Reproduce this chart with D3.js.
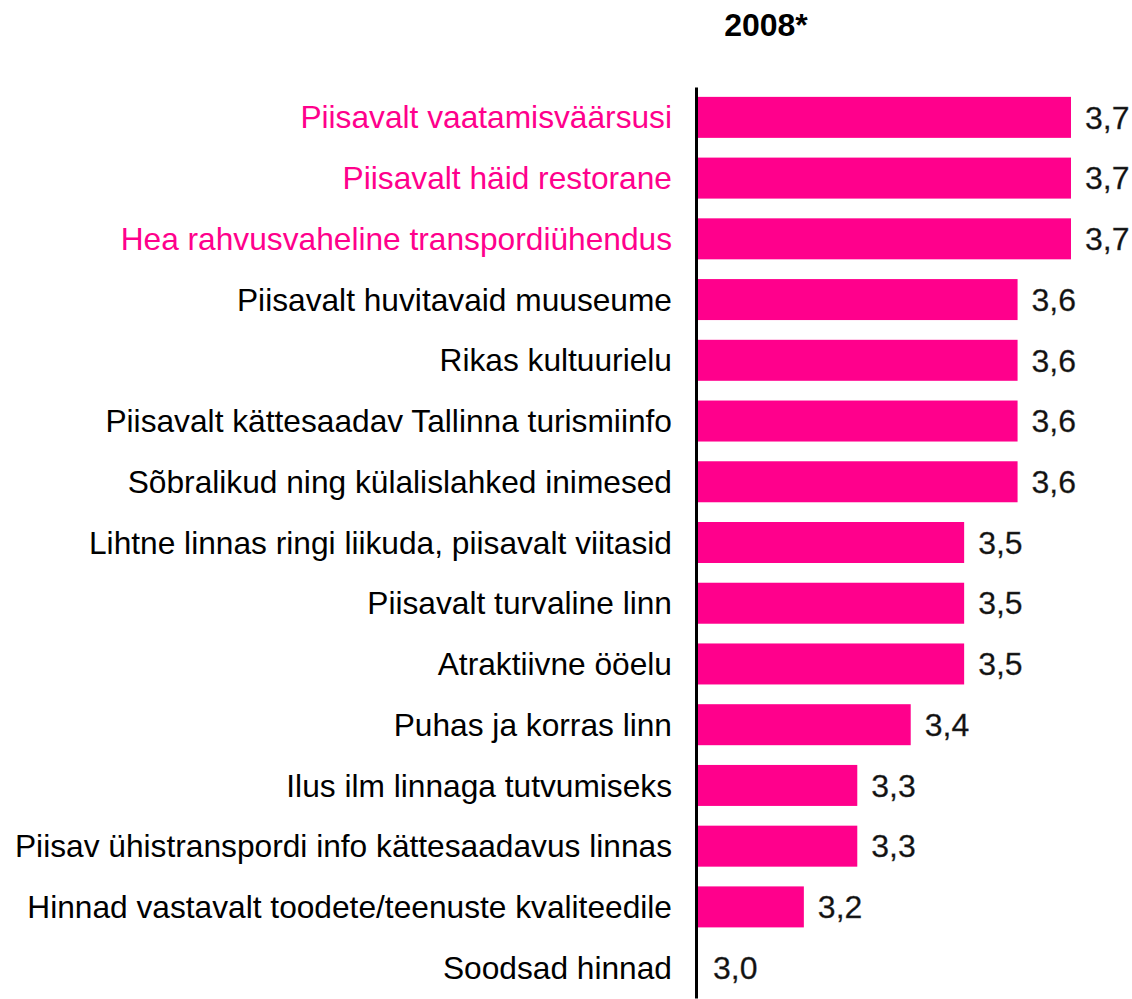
<!DOCTYPE html>
<html>
<head>
<meta charset="utf-8">
<script src="https://cdn.jsdelivr.net/npm/d3@7"></script>
<style>
  body { margin: 0; background: #fff; }
  text { font-family: Arial, "Liberation Sans", sans-serif; }
</style>
</head>
<body>
<div id="mainchart"></div>
<script>
var categories = [
  "Piisavalt vaatamisväärsusi",
  "Piisavalt häid restorane",
  "Hea rahvusvaheline transpordiühendus",
  "Piisavalt huvitavaid muuseume",
  "Rikas kultuurielu",
  "Piisavalt kättesaadav Tallinna turismiinfo",
  "Sõbralikud ning külalislahked inimesed",
  "Lihtne linnas ringi liikuda, piisavalt viitasid",
  "Piisavalt turvaline linn",
  "Atraktiivne ööelu",
  "Puhas ja korras linn",
  "Ilus ilm linnaga tutvumiseks",
  "Piisav ühistranspordi info kättesaadavus linnas",
  "Hinnad vastavalt toodete/teenuste kvaliteedile",
  "Soodsad hinnad"
];
var values = [3.7, 3.7, 3.7, 3.6, 3.6, 3.6, 3.6, 3.5, 3.5, 3.5, 3.4, 3.3, 3.3, 3.2, 3.0];
var highlighted = [true, true, true, false, false, false, false, false, false, false, false, false, false, false, false];
var title = "2008*";

var data = categories.map(function(c, i) {
  return {name: c, value: values[i], hl: highlighted[i]};
});

var width = 1132, height = 999, pink = '#FF008C';
var fmt = function(v) { return d3.format(".1f")(v).replace('.', ','); };

var svg = d3.select("#mainchart").append("svg")
  .attr("width", width)
  .attr("height", height);

var x = d3.scaleLinear().domain([3.0, 3.7]).range([697, 1071]);
var y = d3.scaleBand().domain(categories).range([87, 998])
  .paddingInner(0.325).paddingOuter(0.1625);

svg.append('text')
  .attr('x', 766).attr('y', 36)
  .attr('text-anchor', 'middle')
  .style('font-size', '32px').style('font-weight', 'bold')
  .text(title);

svg.selectAll("rect.bar")
  .data(data).enter()
  .append("rect")
  .attr('class', 'bar')
  .attr('x', x(3.0))
  .attr('y', function(d) { return y(d.name); })
  .attr('width', function(d) { return x(d.value) - x(3.0); })
  .attr('height', y.bandwidth())
  .attr('fill', pink);

svg.selectAll("text.cat")
  .data(data).enter()
  .append("text")
  .attr('class', 'cat')
  .attr('x', 672)
  .attr('y', function(d) { return y(d.name) + y.bandwidth() / 2; })
  .attr('dy', '0.35em')
  .attr('text-anchor', 'end')
  .style('font-size', '31.7px')
  .attr('fill', function(d) { return d.hl ? pink : '#000'; })
  .text(function(d) { return d.name; });

svg.selectAll("text.val")
  .data(data).enter()
  .append("text")
  .attr('class', 'val')
  .attr('x', function(d) { return x(d.value) + (d.value > 3.0 ? 14 : 16); })
  .attr('y', function(d) { return y(d.name) + y.bandwidth() / 2; })
  .attr('dy', '0.35em')
  .style('font-size', '32px')
  .attr('fill', '#111')
  .attr('stroke', '#444').attr('stroke-width', 0.3)
  .text(function(d) { return fmt(d.value); });

// axis line
var yAxis = d3.axisLeft(y).tickSize(0).tickFormat('');
svg.append('g')
  .attr('transform', 'translate(696,0)')
  .call(yAxis)
  .select('.domain')
  .attr('stroke', '#000').attr('stroke-width', 3);
</script>
</body>
</html>
